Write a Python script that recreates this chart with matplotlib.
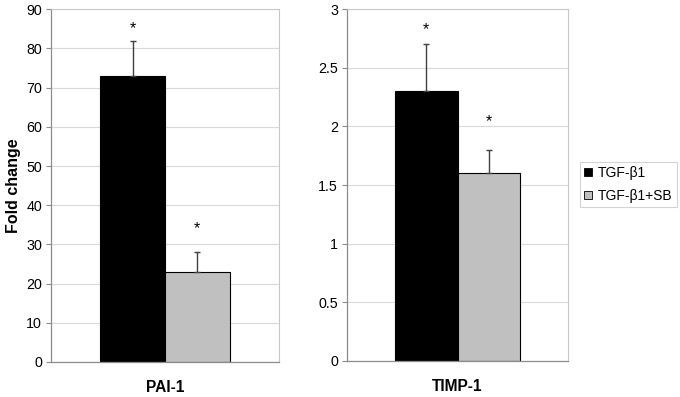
import matplotlib
matplotlib.use("Agg")
import matplotlib.pyplot as plt
from matplotlib.patches import Patch

plt.rcParams['font.family'] = ['Liberation Sans', 'DejaVu Sans']

series = ["TGF-β1", "TGF-β1+SB"]
colors = ["#000000", "#c0c0c0"]

pai_values = [73, 23]
pai_errors = [9, 5]
pai_stars = [85.0, 34.0]
pai_ticks = [0, 10, 20, 30, 40, 50, 60, 70, 80, 90]

timp_values = [2.3, 1.6]
timp_errors = [0.4, 0.2]
timp_stars = [2.83, 2.04]
timp_ticks = [0, 0.5, 1, 1.5, 2, 2.5, 3]
timp_ticklabels = ["0", "0.5", "1", "1.5", "2", "2.5", "3"]

fig = plt.figure(figsize=(6.8, 3.97), dpi=100)
axL = fig.add_axes([0.075, 0.0882, 0.335, 0.8884])
axR = fig.add_axes([0.5103, 0.0907, 0.325, 0.886])

bw = 0.284
xs = [-bw / 2, bw / 2]

def style(ax, ticks, ticklabels, ymax, label):
    ax.set_xlim(-0.5, 0.5)
    ax.set_ylim(0, ymax)
    ax.set_yticks(ticks)
    ax.set_yticklabels(ticklabels, fontsize=10.3)
    ax.set_xticks([])
    ax.yaxis.grid(True, color="#d9d9d9", linewidth=0.8)
    ax.set_axisbelow(True)
    for s in ["top", "right"]:
        ax.spines[s].set_color("#c8c8c8")
        ax.spines[s].set_linewidth(0.8)
    for s in ["left", "bottom"]:
        ax.spines[s].set_color("#8c8c8c")
        ax.spines[s].set_linewidth(0.9)
    ax.tick_params(axis="y", length=3.5, width=0.8, color="#8c8c8c", pad=3)
    ax.set_xlabel(label, fontsize=11.2, fontweight="bold", labelpad=13)

def draw(ax, vals, errs, stars):
    for x, v, e, c, s in zip(xs, vals, errs, colors, stars):
        ax.bar(x, v, width=bw, color=c, edgecolor="#000000", linewidth=0.8, zorder=2)
        ax.errorbar(x, v, yerr=[[0], [e]], fmt="none", ecolor="#404040",
                    elinewidth=1.0, capsize=2.5, capthick=1.0, zorder=3)
        ax.text(x, s, "*", ha="center", va="center", fontsize=11.5, color="#000000")

draw(axL, pai_values, pai_errors, pai_stars)
style(axL, pai_ticks, [str(t) for t in pai_ticks], 90, "PAI-1")
axL.set_ylabel("Fold change", fontsize=11.5, fontweight="bold", labelpad=4)

draw(axR, timp_values, timp_errors, timp_stars)
style(axR, timp_ticks, timp_ticklabels, 3, "TIMP-1")

handles = [Patch(facecolor=c, edgecolor="#000000", linewidth=0.6) for c in colors]
leg = fig.legend(handles, series, loc="upper left", bbox_to_anchor=(0.853, 0.592),
                 fontsize=10.0, frameon=True, fancybox=False, edgecolor="#c8c8c8",
                 handlelength=0.55, handleheight=0.55, handletextpad=0.45,
                 borderpad=0.3, labelspacing=0.62, borderaxespad=0)
leg.get_frame().set_linewidth(0.8)

fig.savefig("out.png", dpi=100)
